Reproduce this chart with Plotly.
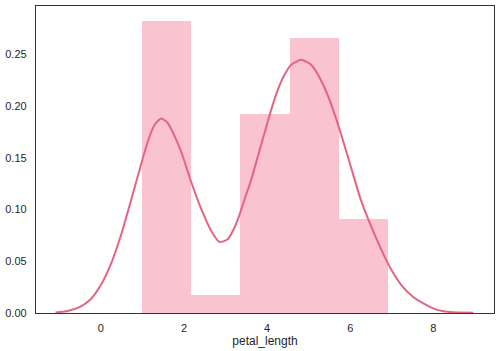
import plotly.graph_objects as go

# Histogram (density)
bin_edges = [1.0, 2.18, 3.36, 4.54, 5.72, 6.9]
bin_density = [0.2825, 0.0170, 0.1921, 0.2655, 0.0904]

# KDE curve points
kde_x = [-1.09, -0.80, -0.50, -0.25, 0.00, 0.25, 0.50, 0.75, 1.00, 1.15, 1.30, 1.45,
         1.60, 1.75, 1.94, 2.18, 2.42, 2.66, 2.86, 3.06, 3.18, 3.30, 3.46, 3.62, 3.78,
         3.94, 4.10, 4.26, 4.42, 4.58, 4.82, 5.06, 5.29, 5.53, 5.77, 6.01, 6.25, 6.49,
         6.75, 7.00, 7.25, 7.50, 7.77, 8.09, 8.40, 8.96]
kde_y = [0.0005, 0.002, 0.006, 0.013, 0.027, 0.048, 0.077, 0.112, 0.148, 0.168, 0.182,
         0.1878, 0.184, 0.173, 0.155, 0.126, 0.100, 0.079, 0.0685, 0.0715, 0.0795, 0.0907,
         0.110, 0.129, 0.1515, 0.174, 0.1964, 0.2157, 0.230, 0.2397, 0.2445, 0.2397,
         0.2253, 0.203, 0.174, 0.142, 0.110, 0.085, 0.061, 0.041, 0.026, 0.016, 0.009,
         0.003, 0.001, 0.0002]

x_ticks = [0, 2, 4, 6, 8]
y_ticks = [0.0, 0.05, 0.10, 0.15, 0.20, 0.25]
y_tick_text = ["0.00", "0.05", "0.10", "0.15", "0.20", "0.25"]

centers = [(a + b) / 2 for a, b in zip(bin_edges[:-1], bin_edges[1:])]
widths = [b - a for a, b in zip(bin_edges[:-1], bin_edges[1:])]

fig = go.Figure()
fig.add_trace(go.Bar(x=centers, y=bin_density, width=widths,
                     marker=dict(color="#f9c3cf", line=dict(width=0)),
                     showlegend=False, hoverinfo="skip"))
fig.add_trace(go.Scatter(x=kde_x, y=kde_y, mode="lines",
                         line=dict(color="#e5647f", width=2, shape="spline", smoothing=0.6),
                         showlegend=False))

fig.update_layout(
    width=500, height=351,
    margin=dict(l=34, r=5, t=6, b=37),
    paper_bgcolor="white", plot_bgcolor="white",
    font=dict(family="Liberation Sans, Arial, sans-serif", size=11, color="#262626"),
    bargap=0,
)
fig.update_xaxes(range=[-1.559, 9.459], tickvals=x_ticks, showgrid=False, zeroline=False,
                 showline=True, linecolor="#333333", linewidth=1.25, mirror=True,
                 ticks="", ticklabelstandoff=5,
                 title=dict(text="petal_length", font=dict(size=12), standoff=3))
fig.update_yaxes(range=[0, 0.2965], tickvals=y_ticks, ticktext=y_tick_text, showgrid=False,
                 zeroline=False, showline=True, linecolor="#333333", linewidth=1.25,
                 mirror=True, ticks="", ticklabelstandoff=6)

fig.write_html("out.html")
